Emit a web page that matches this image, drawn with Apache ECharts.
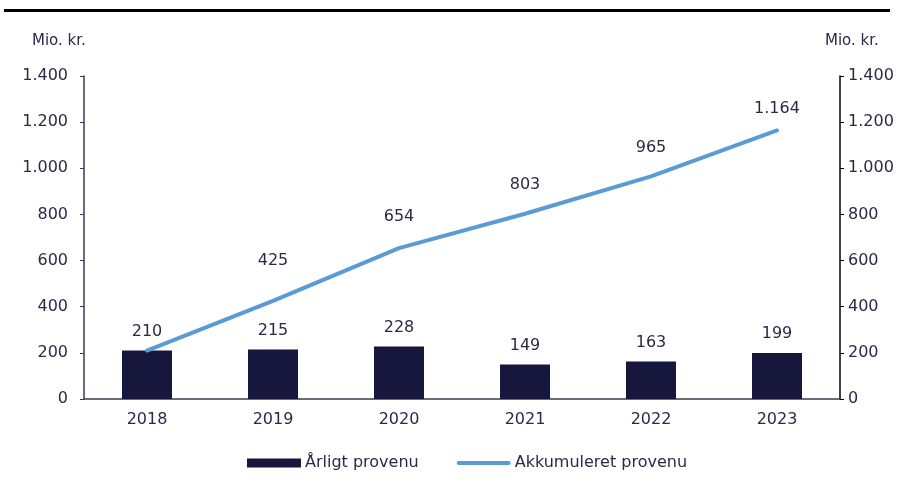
<!DOCTYPE html>
<html>
<head>
<meta charset="utf-8">
<script src="https://cdn.jsdelivr.net/npm/echarts@6/dist/echarts.min.js"></script>
<style>
  html, body { margin: 0; padding: 0; background: #fff; }
  #chart { width: 905px; height: 492px; }
</style>
</head>
<body>
<div id="chart"></div>
<script>
// data
var years = ['2018', '2019', '2020', '2021', '2022', '2023'];
var aarligt = [210, 215, 228, 149, 163, 199];
var akkumuleret = [210, 425, 654, 803, 965, 1164];

var textColor = '#2a2a48';
var lineColor = '#5b9bd5';
var font = 'DejaVu Sans';
// label nudges for the line labels, as placed in the original
var lineLabelGap = [22, 31, 22, 20, 20, 13];

function fmt(v) {
    return String(v).replace(/\B(?=(\d{3})+(?!\d))/g, '.');
}

var lineData = akkumuleret.map(function (v, i) {
    return { value: v, label: { distance: lineLabelGap[i] } };
});

var myChart = echarts.init(document.getElementById('chart'));
var option = {
    animation: false,
    textStyle: { fontFamily: font, color: textColor },
    grid: { left: 84, right: 65, top: 76, bottom: 93 },
    graphic: [
        { type: 'rect', shape: { x: 4, y: 9, width: 886, height: 3 }, style: { fill: '#000' } },
        { type: 'text', left: 32, top: 34, style: { text: 'Mio. kr.', fill: textColor, font: '15px "DejaVu Sans"' } },
        { type: 'text', left: 825, top: 34, style: { text: 'Mio. kr.', fill: textColor, font: '15px "DejaVu Sans"' } }
    ],
    legend: {
        bottom: 16,
        left: 242,
        itemGap: 38,
        itemWidth: 54,
        itemHeight: 9,
        textStyle: { fontSize: 16, color: textColor, fontFamily: font, padding: [0, 0, 0, -1] },
        data: [
            { name: 'Årligt provenu', icon: 'rect' },
            { name: 'Akkumuleret provenu', icon: 'path://M2,0 L52,0 A2,2 0 0 1 52,4 L2,4 A2,2 0 0 1 2,0 Z', itemStyle: { color: lineColor } }
        ]
    },
    xAxis: {
        type: 'category',
        data: years,
        axisLine: { lineStyle: { color: '#3a3a55', width: 1.5 } },
        axisTick: { show: false },
        axisLabel: { fontSize: 16, color: textColor, margin: 13 }
    },
    yAxis: [
        {
            type: 'value', min: 0, max: 1400, interval: 200,
            axisLine: { show: true, lineStyle: { color: '#3a3a55', width: 1.5 } },
            axisTick: { show: true, length: 4, lineStyle: { color: '#3a3a55' } },
            splitLine: { show: false },
            axisLabel: { fontSize: 16, color: textColor, margin: 16, formatter: fmt }
        },
        {
            type: 'value', min: 0, max: 1400, interval: 200, position: 'right',
            axisLine: { show: true, lineStyle: { color: '#000', width: 1.5 } },
            axisTick: { show: true, length: 4, lineStyle: { color: '#000' } },
            splitLine: { show: false },
            axisLabel: { fontSize: 16, color: textColor, margin: 8, formatter: fmt }
        }
    ],
    series: [
        {
            name: 'Årligt provenu',
            type: 'bar',
            barWidth: 50,
            itemStyle: { color: '#17173d' },
            label: { show: true, position: 'top', distance: 11, fontSize: 16, color: textColor, fontFamily: font },
            data: aarligt
        },
        {
            name: 'Akkumuleret provenu',
            type: 'line',
            yAxisIndex: 0,
            symbol: 'circle',
            symbolSize: 2,
            lineStyle: { color: lineColor, width: 4, cap: 'round' },
            itemStyle: { color: lineColor },
            label: {
                show: true, position: 'top', fontSize: 16, color: textColor, fontFamily: font,
                formatter: function (p) { return p.dataIndex === 0 ? '' : fmt(p.value); }
            },
            data: lineData
        }
    ]
};
myChart.setOption(option);
</script>
</body>
</html>
